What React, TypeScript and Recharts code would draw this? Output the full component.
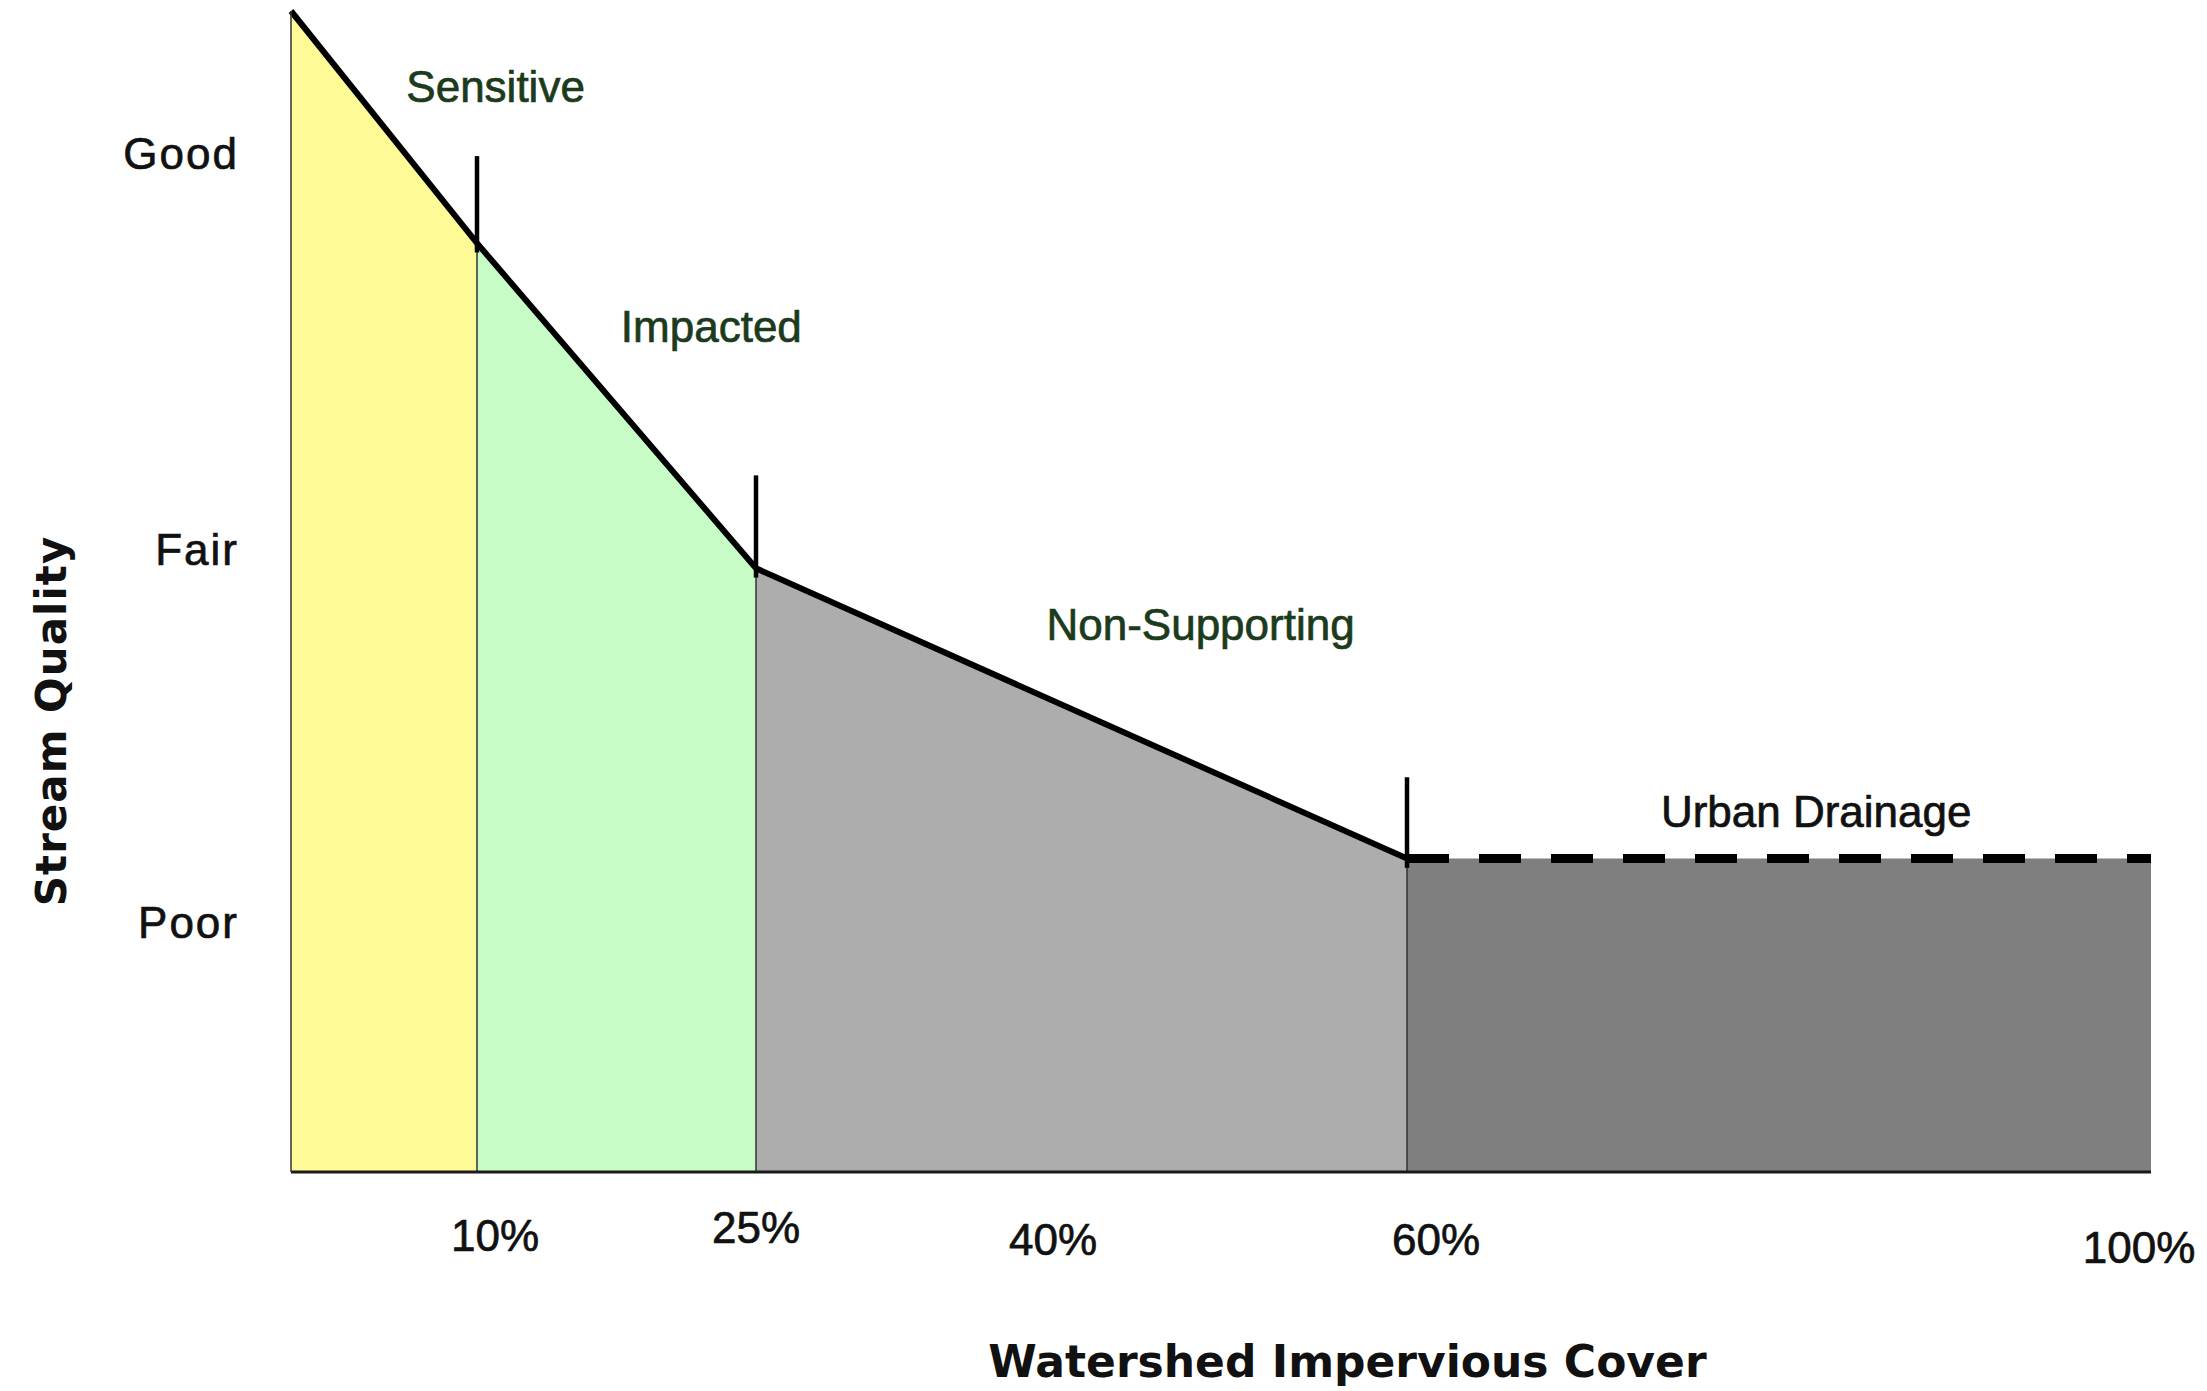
import React from 'react'
import { ComposedChart, Area, Line, XAxis, YAxis, ReferenceLine, ReferenceDot, Label } from 'recharts'

// break points along impervious cover (%) and stream quality at each one
const breaks = [0, 10, 25, 60, 100]
const quality = [100, 80, 52, 27, 27]

const zoneKeys = ['sensitive', 'impacted', 'nonSupporting', 'urbanDrainage']
const zoneNames = ['Sensitive', 'Impacted', 'Non-Supporting', 'Urban Drainage']
const zoneLabelX = [11, 22.6, 48.9, 82]
const zoneLabelY = [93.5, 72.8, 47.2, 31.1]

// short vertical markers standing on the line at 10%, 25% and 60%
const markerTops = [87.5, 60, 34]

const xTicks = [10, 25, 40, 60, 100]
const qualityTicks = [21.5, 53.7, 87.8]
const qualityNames = ['Poor', 'Fair', 'Good']

const zoneColors = ['#fefa96', '#c7fcc7', '#adadad', '#7f7f7f']
const zoneTextColors = ['#1c3a1c', '#1c3a1c', '#1c3a1c', '#111111']
// the % labels in the picture sit a bit off their tick positions
const xTickDx: Record<number, number> = { 10: 18, 25: 0, 40: 18, 60: 29, 100: -12 }
const xTickDy: Record<number, number> = { 10: 79, 25: 71, 40: 83, 60: 83, 100: 91 }

const sans = "'Liberation Sans', Arial, sans-serif"
const boldSans = "'DejaVu Sans', Verdana, sans-serif"

const data = breaks.map((x, i) => {
  const row: Record<string, number> = { x }
  if (i > 0) row[zoneKeys[i - 1]] = quality[i]
  if (i < zoneKeys.length) row[zoneKeys[i]] = quality[i]
  if (x <= 60) row.solid = quality[i]
  if (x >= 60) row.dashed = quality[i]
  return row
})

const XTick = (props: any) => {
  const { x, y, payload } = props
  const v = payload.value
  return (
    <text x={x + (xTickDx[v] || 0)} y={y + (xTickDy[v] || 80)} textAnchor="middle"
      fontFamily={sans} fontSize={44} fill="#111" stroke="#111" strokeWidth={0.7}>
      {v + '%'}
    </text>
  )
}

const YTick = (props: any) => {
  const { x, y, payload } = props
  const idx = qualityTicks.indexOf(payload.value)
  return (
    <text x={x - 52} y={y + 16} textAnchor="end" fontFamily={sans} fontSize={44}
      letterSpacing={2} fill="#111" stroke="#111" strokeWidth={0.7}>
      {qualityNames[idx]}
    </text>
  )
}

const XTitle = (props: any) => {
  const vb = props.viewBox
  return (
    <text x={vb.x + vb.width * 0.568} y={vb.y + 205} textAnchor="middle"
      fontFamily={boldSans} fontWeight="bold" fontSize={44} fill="#111">
      Watershed Impervious Cover
    </text>
  )
}

const YTitle = (props: any) => {
  const vb = props.viewBox
  const cx = vb.x + 66
  const cy = vb.y + vb.height * 0.6115
  return (
    <text x={cx} y={cy} transform={`rotate(-90 ${cx} ${cy})`} textAnchor="middle"
      fontFamily={boldSans} fontWeight="bold" fontSize={42} letterSpacing={1} fill="#111">
      Stream Quality
    </text>
  )
}

export default function App() {
  return (
    <div style={{ position: 'absolute', left: 0, top: 0, background: '#fff' }}>
      <ComposedChart width={2207} height={1391} data={data}
        margin={{ top: 11, right: 56, bottom: 0, left: 0 }}>
        <XAxis dataKey="x" type="number" domain={[0, 100]} ticks={xTicks} interval={0}
          height={219} tickLine={false} tickSize={0} tickMargin={0}
          axisLine={{ stroke: '#1a1a1a', strokeWidth: 3 }} tick={(p: any) => <XTick {...p} />}>
          <Label content={(p: any) => <XTitle {...p} />} />
        </XAxis>
        <YAxis type="number" domain={[0, 100]} ticks={qualityTicks} interval={0}
          width={291} tickLine={false} tickSize={0} tickMargin={0}
          axisLine={{ stroke: '#333', strokeWidth: 1.5 }} tick={(p: any) => <YTick {...p} />}>
          <Label content={(p: any) => <YTitle {...p} />} />
        </YAxis>

        {zoneKeys.map((k, i) => (
          <Area key={k} type="linear" dataKey={k} stroke="none" fill={zoneColors[i]}
            fillOpacity={1} isAnimationActive={false} dot={false} activeDot={false} />
        ))}

        {breaks.slice(1, 4).map((b, i) => (
          <ReferenceLine key={'div' + b} segment={[{ x: b, y: 0 }, { x: b, y: quality[i + 1] }]}
            stroke="#333" strokeWidth={1.5} />
        ))}

        <Line type="linear" dataKey="solid" stroke="#000" strokeWidth={6} dot={false}
          activeDot={false} isAnimationActive={false} />
        <Line type="linear" dataKey="dashed" stroke="#000" strokeWidth={9} strokeDasharray="42 30"
          dot={false} activeDot={false} isAnimationActive={false} />

        {breaks.slice(1, 4).map((b, i) => (
          <ReferenceLine key={'mk' + b} segment={[{ x: b, y: quality[i + 1] - 0.8 }, { x: b, y: markerTops[i] }]}
            stroke="#000" strokeWidth={4.5} />
        ))}

        {zoneNames.map((n, i) => (
          <ReferenceDot key={n} x={zoneLabelX[i]} y={zoneLabelY[i]} r={0} fill="none" stroke="none"
            label={{ value: n, position: 'center', fill: zoneTextColors[i], stroke: zoneTextColors[i],
              strokeWidth: 0.7, fontSize: 44, fontFamily: sans }} />
        ))}
      </ComposedChart>
    </div>
  )
}
